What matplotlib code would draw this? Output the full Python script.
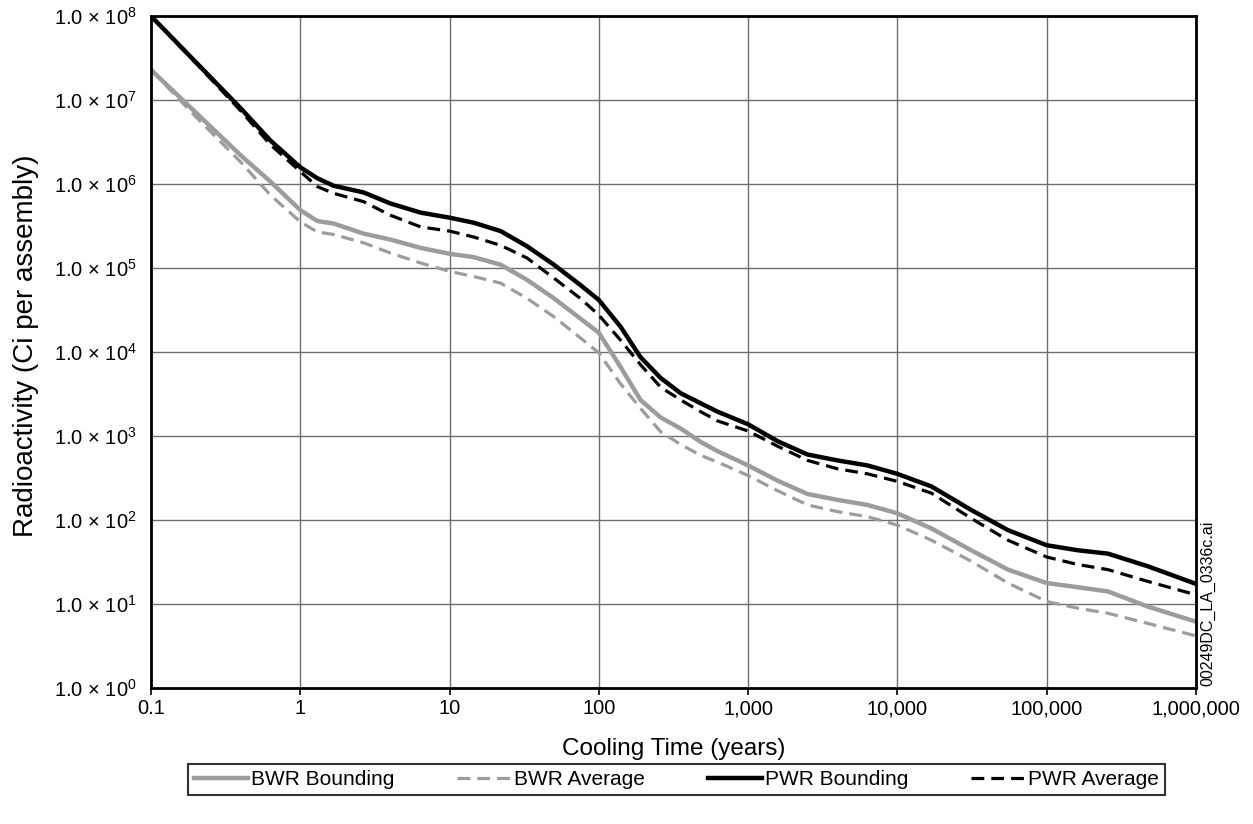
import numpy as np
import matplotlib
matplotlib.use('Agg')
import matplotlib.pyplot as plt
from matplotlib.ticker import FixedLocator, NullLocator

plt.rcParams['font.family'] = ['Liberation Sans', 'DejaVu Sans']
plt.rcParams['mathtext.fontset'] = 'custom'
plt.rcParams['mathtext.rm'] = 'Liberation Sans'
plt.rcParams['mathtext.it'] = 'Liberation Sans'

# cooling time (years) and log10 radioactivity (Ci per assembly)
t_years = [0.1, 0.2, 0.4, 0.63, 1, 1.3, 1.67, 2.66, 4, 6.4, 10, 14.5, 22, 33, 50, 75,
           100, 140, 190, 260, 353, 481, 624, 1000, 1570, 2500, 3970, 6300, 10000,
           16900, 31200, 55000, 100000, 162000, 257000, 475000, 1000000]

pwr_bound = [8.00, 7.45, 6.90, 6.52, 6.20, 6.07, 5.98, 5.90, 5.77, 5.66, 5.60, 5.54, 5.44,
             5.26, 5.04, 4.80, 4.62, 4.30, 3.94, 3.69, 3.51, 3.39, 3.29, 3.14, 2.94, 2.78,
             2.71, 2.65, 2.55, 2.40, 2.12, 1.88, 1.70, 1.64, 1.60, 1.45, 1.24]
pwr_avg = [8.00, 7.44, 6.87, 6.47, 6.15, 5.97, 5.89, 5.79, 5.63, 5.49, 5.44, 5.37, 5.27,
           5.12, 4.88, 4.64, 4.44, 4.14, 3.85, 3.58, 3.43, 3.29, 3.18, 3.06, 2.88, 2.71,
           2.61, 2.55, 2.46, 2.32, 2.02, 1.76, 1.56, 1.47, 1.41, 1.27, 1.11]
bwr_bound = [7.36, 6.85, 6.34, 6.03, 5.69, 5.56, 5.53, 5.41, 5.34, 5.24, 5.17, 5.13, 5.04,
             4.86, 4.64, 4.40, 4.23, 3.82, 3.43, 3.22, 3.09, 2.93, 2.82, 2.65, 2.47, 2.31,
             2.24, 2.18, 2.08, 1.90, 1.64, 1.41, 1.25, 1.20, 1.15, 0.97, 0.79]
bwr_avg = [7.36, 6.80, 6.26, 5.87, 5.55, 5.43, 5.40, 5.30, 5.18, 5.06, 4.96, 4.90, 4.82,
           4.64, 4.42, 4.17, 3.99, 3.62, 3.33, 3.05, 2.90, 2.77, 2.69, 2.53, 2.35, 2.18,
           2.10, 2.04, 1.94, 1.76, 1.51, 1.25, 1.03, 0.95, 0.89, 0.77, 0.62]

x_ticks = [0.1, 1, 10, 100, 1000, 10000, 100000, 1000000]
x_labels = ['0.1', '1', '10', '100', '1,000', '10,000', '100,000', '1,000,000']
y_exps = list(range(0, 9))

gray = '#9c9c9e'
dash = (0, (4.0, 2.2))

fig = plt.figure(figsize=(12.53, 8.24), dpi=100)
ax = fig.add_axes([0.1205, 0.165, 0.834, 0.8155])

t = np.array(t_years)
ax.plot(t, 10 ** np.array(bwr_bound), color=gray, lw=3.2, label='BWR Bounding')
ax.plot(t, 10 ** np.array(bwr_avg), color=gray, lw=2.3, ls=dash, label='BWR Average')
ax.plot(t, 10 ** np.array(pwr_bound), color='black', lw=3.2, label='PWR Bounding')
ax.plot(t, 10 ** np.array(pwr_avg), color='black', lw=2.3, ls=dash, label='PWR Average')

ax.set_xscale('log')
ax.set_yscale('log')
ax.set_xlim(0.1, 1e6)
ax.set_ylim(1, 1e8)

ax.xaxis.set_major_locator(FixedLocator(x_ticks))
ax.xaxis.set_minor_locator(NullLocator())
ax.set_xticklabels(x_labels)
ax.yaxis.set_major_locator(FixedLocator([10.0 ** e for e in y_exps]))
ax.yaxis.set_minor_locator(NullLocator())
ax.set_yticklabels([u'1.0 \u00d7 10$^{%d}$' % e for e in y_exps])

ax.tick_params(axis='x', direction='out', length=5, width=1.2, labelsize=14.5, pad=3)
ax.tick_params(axis='y', length=0, labelsize=14.5, pad=10)

ax.grid(True, which='major', color='#6e6e6e', lw=1.0)
for s in ax.spines.values():
    s.set_linewidth(2)
    s.set_color('black')

ax.set_xlabel('Cooling Time (years)', fontsize=17.5)
ax.xaxis.set_label_coords(0.5, -0.075)
ax.set_ylabel('Radioactivity (Ci per assembly)', fontsize=20)
ax.yaxis.set_label_coords(-0.107, 0.51)

leg = fig.legend(loc='center', bbox_to_anchor=(0.54, 0.054), ncol=4, fontsize=15,
                 frameon=True, fancybox=False, edgecolor='black', handlelength=2.6,
                 columnspacing=3.0, handletextpad=0.15, borderpad=0.3, borderaxespad=0)
leg.get_frame().set_linewidth(1.5)

fig.text(0.9575, 0.168, '00249DC_LA_0336c.ai', rotation=90, fontsize=11.5,
         ha='left', va='bottom')

fig.savefig('out.png', dpi=100)
